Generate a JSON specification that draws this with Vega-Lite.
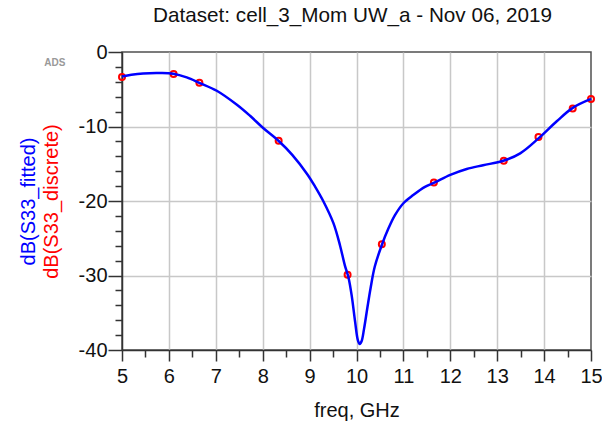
{
  "$schema": "https://vega.github.io/schema/vega-lite/v6.json",
  "width": 469,
  "height": 298,
  "autosize": {"type": "none"},
  "padding": {"left": 122, "top": 52, "right": 11, "bottom": 78},
  "background": "white",
  "config": {
    "font": "Liberation Sans",
    "view": {"stroke": "#505050", "strokeWidth": 1.5},
    "axis": {
      "labelFont": "Liberation Sans",
      "titleFont": "Liberation Sans",
      "labelFontSize": 20,
      "titleFontSize": 20,
      "titleFontWeight": "normal",
      "labelColor": "#111111",
      "titleColor": "#111111",
      "domainColor": "#333333",
      "domainWidth": 1.5,
      "tickColor": "#333333",
      "tickWidth": 1.5,
      "gridColor": "#c8c8c8",
      "gridWidth": 1.5,
      "labelOverlap": false,
      "labelFlush": false
    }
  },
  "title": {
    "text": "Dataset: cell_3_Mom UW_a - Nov 06, 2019",
    "fontSize": 20.7,
    "fontWeight": "normal",
    "font": "Liberation Sans",
    "color": "#111111",
    "frame": "group",
    "anchor": "middle",
    "baseline": "alphabetic",
    "offset": -1,
    "dx": -4
  },
  "datasets": {
    "discrete": [
      {"freq": 5.0, "dB": -3.35},
      {"freq": 6.1, "dB": -2.95},
      {"freq": 6.65, "dB": -4.13},
      {"freq": 8.34, "dB": -11.9},
      {"freq": 9.81, "dB": -29.9},
      {"freq": 10.54, "dB": -25.8},
      {"freq": 11.65, "dB": -17.5},
      {"freq": 13.14, "dB": -14.6},
      {"freq": 13.88, "dB": -11.4},
      {"freq": 14.61, "dB": -7.6},
      {"freq": 15.0, "dB": -6.3}
    ],
    "fitted": [
      {"freq": 5.0, "dB": -3.28},
      {"freq": 5.2, "dB": -3.05},
      {"freq": 5.45, "dB": -2.88},
      {"freq": 5.81, "dB": -2.83},
      {"freq": 6.09, "dB": -2.92},
      {"freq": 6.38, "dB": -3.41},
      {"freq": 6.66, "dB": -4.17},
      {"freq": 7.02, "dB": -5.2},
      {"freq": 7.45, "dB": -7.08},
      {"freq": 7.73, "dB": -8.56},
      {"freq": 8.01, "dB": -10.2},
      {"freq": 8.33, "dB": -11.88},
      {"freq": 8.63, "dB": -13.8},
      {"freq": 8.95, "dB": -16.4},
      {"freq": 9.12, "dB": -18.1},
      {"freq": 9.29, "dB": -20.0},
      {"freq": 9.51, "dB": -23.0},
      {"freq": 9.65, "dB": -26.0},
      {"freq": 9.75, "dB": -28.6},
      {"freq": 9.83, "dB": -30.3},
      {"freq": 9.9, "dB": -32.8},
      {"freq": 9.97, "dB": -36.2},
      {"freq": 10.03, "dB": -38.7},
      {"freq": 10.07, "dB": -39.2},
      {"freq": 10.11, "dB": -38.8},
      {"freq": 10.16, "dB": -37.2},
      {"freq": 10.23, "dB": -34.4},
      {"freq": 10.3, "dB": -31.7},
      {"freq": 10.39, "dB": -28.8},
      {"freq": 10.54, "dB": -25.9},
      {"freq": 10.68, "dB": -23.7},
      {"freq": 10.82, "dB": -21.9},
      {"freq": 11.0, "dB": -20.3},
      {"freq": 11.21, "dB": -19.2},
      {"freq": 11.46, "dB": -18.1},
      {"freq": 11.67, "dB": -17.5},
      {"freq": 12.0, "dB": -16.5},
      {"freq": 12.35, "dB": -15.7},
      {"freq": 12.7, "dB": -15.2},
      {"freq": 13.13, "dB": -14.6},
      {"freq": 13.49, "dB": -13.6},
      {"freq": 13.88, "dB": -11.6},
      {"freq": 14.27, "dB": -9.3},
      {"freq": 14.61, "dB": -7.5},
      {"freq": 15.0, "dB": -6.3}
    ],
    "ads": [
      {"freq": 3.57, "dB": -1.44, "label": "ADS"}
    ]
  },
  "layer": [
    {
      "data": {"name": "discrete"},
      "mark": {"type": "point", "shape": "circle", "filled": false, "color": "#ff0000", "strokeWidth": 2, "size": 36, "opacity": 1},
      "encoding": {
        "x": {
          "field": "freq", "type": "quantitative",
          "scale": {"domain": [5, 15], "nice": false, "zero": false},
          "axis": {
            "title": "freq, GHz",
            "values": [5, 5.5, 6, 6.5, 7, 7.5, 8, 8.5, 9, 9.5, 10, 10.5, 11, 11.5, 12, 12.5, 13, 13.5, 14, 14.5, 15],
            "labelExpr": "datum.value % 1 === 0 ? '' + datum.value : ''",
            "tickSize": {"condition": {"test": "datum.value % 1 === 0", "value": 11}, "value": 7},
            "gridOpacity": {"condition": {"test": "datum.value % 1 === 0 && datum.value > 5 && datum.value < 15", "value": 1}, "value": 0},
            "labelPadding": 5,
            "titlePadding": 14
          }
        },
        "y": {
          "field": "dB", "type": "quantitative",
          "scale": {"domain": [-40, 0], "nice": false, "zero": false},
          "axis": {
            "orient": "left",
            "title": "dB(S33_discrete)",
            "titleColor": "#ff0000",
            "values": [-40, -38, -36, -34, -32, -30, -28, -26, -24, -22, -20, -18, -16, -14, -12, -10, -8, -6, -4, -2, 0],
            "labelExpr": "datum.value % 10 === 0 ? '' + datum.value : ''",
            "tickSize": {"condition": {"test": "datum.value % 10 === 0", "value": 14}, "value": 7},
            "gridOpacity": {"condition": {"test": "datum.value % 10 === 0 && datum.value > -40 && datum.value < 0", "value": 1}, "value": 0},
            "labelPadding": 1,
            "titlePadding": 17
          }
        }
      }
    },
    {
      "data": {"name": "fitted"},
      "mark": {"type": "line", "color": "#0000ff", "strokeWidth": 2.5, "interpolate": "catmull-rom"},
      "encoding": {
        "x": {"field": "freq", "type": "quantitative", "scale": {"domain": [5, 15], "nice": false, "zero": false}, "axis": null},
        "y": {
          "field": "dB", "type": "quantitative",
          "scale": {"domain": [-40, 0], "nice": false, "zero": false},
          "axis": {
            "orient": "left",
            "title": "dB(S33_fitted)",
            "titleColor": "#0000ff",
            "labels": false,
            "ticks": false,
            "domain": false,
            "grid": false,
            "offset": 84,
            "titlePadding": 0
          }
        }
      }
    },
    {
      "data": {"name": "ads"},
      "mark": {"type": "text", "fontSize": 10, "fontWeight": "bold", "color": "#999999", "align": "center", "baseline": "middle", "font": "Liberation Sans"},
      "encoding": {
        "x": {"field": "freq", "type": "quantitative", "scale": {"domain": [5, 15], "nice": false, "zero": false}, "axis": null},
        "y": {"field": "dB", "type": "quantitative", "scale": {"domain": [-40, 0], "nice": false, "zero": false}, "axis": null},
        "text": {"field": "label"}
      }
    }
  ],
  "resolve": {"axis": {"x": "independent", "y": "independent"}}
}
